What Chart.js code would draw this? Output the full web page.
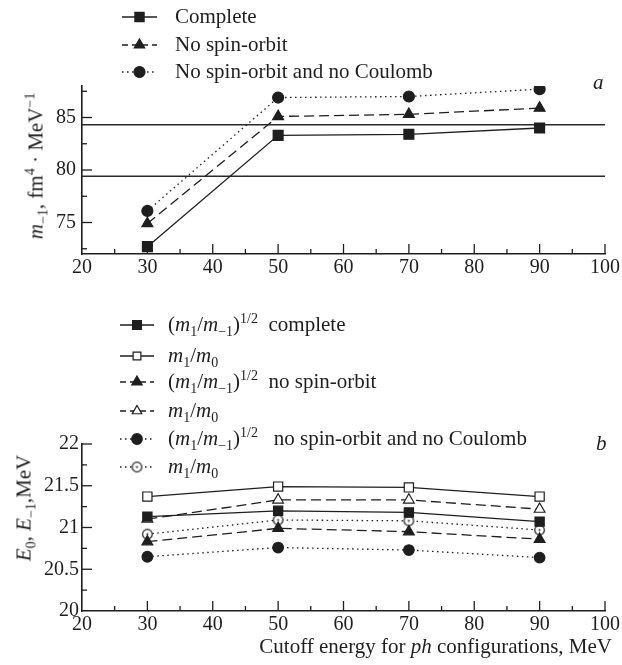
<!DOCTYPE html>
<html>
<head>
<meta charset="utf-8">
<script src="https://cdn.jsdelivr.net/npm/chart.js@4.4.0/dist/chart.umd.min.js"></script>
<style>
body { margin:0; background:#fff; width:622px; height:665px; position:relative; overflow:hidden;
       font-family:"Liberation Serif","DejaVu Serif",serif; color:#1e1e1e; }
.box { position:absolute; left:0; width:622px; }
#wa { top:0; height:300px; }
#wb { top:300px; height:365px; }
.t { position:absolute; font-size:21px; line-height:21px; white-space:nowrap; }
.t sub, .t sup { font-size:14px; line-height:0; }
.rot { transform:translate(-50%,-50%) rotate(-90deg); transform-origin:center; }
</style>
</head>
<body>
<div class="box" id="wa"><canvas id="ca" width="622" height="300"></canvas></div>
<div class="box" id="wb"><canvas id="cb" width="622" height="365"></canvas></div>

<!-- panel a texts -->
<div class="t" style="left:175px;top:6px">Complete</div>
<div class="t" style="left:175px;top:34px">No spin-orbit</div>
<div class="t" style="left:175px;top:61px">No spin-orbit and no Coulomb</div>
<div class="t" style="left:593px;top:72px"><i>a</i></div>
<div class="t rot" style="left:36px;top:166px"><i>m</i><sub>−1</sub>, fm<sup>4</sup> · MeV<sup>−1</sup></div>

<!-- panel b texts -->
<div class="t" style="left:168px;top:314px">(<i>m</i><sub>1</sub>/<i>m</i><sub>−1</sub>)<sup>1/2</sup>&nbsp; complete</div>
<div class="t" style="left:168px;top:345px"><i>m</i><sub>1</sub>/<i>m</i><sub>0</sub></div>
<div class="t" style="left:168px;top:371px">(<i>m</i><sub>1</sub>/<i>m</i><sub>−1</sub>)<sup>1/2</sup>&nbsp; no spin-orbit</div>
<div class="t" style="left:168px;top:400px"><i>m</i><sub>1</sub>/<i>m</i><sub>0</sub></div>
<div class="t" style="left:168px;top:428px">(<i>m</i><sub>1</sub>/<i>m</i><sub>−1</sub>)<sup>1/2</sup>&nbsp;&nbsp; no spin-orbit and no Coulomb</div>
<div class="t" style="left:168px;top:456px"><i>m</i><sub>1</sub>/<i>m</i><sub>0</sub></div>
<div class="t" style="left:596px;top:433px"><i>b</i></div>
<div class="t rot" style="left:24px;top:508px"><i>E</i><sub>0</sub>, <i>E</i><sub>−1</sub>,MeV</div>
<div class="t" style="right:10px;top:636px">Cutoff energy for <i>ph</i> configurations, MeV</div>

<script>
// cutoff energies, MeV
var cutoff = [30, 50, 70, 90];

// panel a: m_-1
var m1Complete = [72.7, 83.3, 83.4, 84.0];
var m1NoSO = [74.9, 85.1, 85.3, 85.9];
var m1NoSONoC = [76.1, 86.9, 87.0, 87.7];
var refLevels = [84.3, 79.4];

// panel b: (m1/m-1)^1/2 and m1/m0
var eComplete = [21.13, 21.20, 21.18, 21.07];
var e0Complete = [21.37, 21.49, 21.48, 21.37];
var eNoSO = [20.83, 20.99, 20.95, 20.86];
var e0NoSO = [21.10, 21.33, 21.33, 21.22];
var eNoSONoC = [20.65, 20.76, 20.73, 20.64];
var e0NoSONoC = [20.92, 21.09, 21.08, 20.97];

// ticks
var xRange = [20, 100];
var yRangeA = [72, 88];
var yTicksA = [72.5, 75, 77.5, 80, 82.5, 85, 87.5];
var yLabelsA = [75, 80, 85];
var yRangeB = [20, 22];

var ink = '#1e1e1e';
var serif = 'Liberation Serif';

// open circle with a dot in the middle
var dotCircle = document.createElement('canvas');
dotCircle.width = 13; dotCircle.height = 13;
(function () {
    var c = dotCircle.getContext('2d');
    c.beginPath(); c.arc(6.5, 6.5, 4.8, 0, Math.PI * 2);
    c.fillStyle = '#fff'; c.fill();
    c.lineWidth = 1.2; c.strokeStyle = ink; c.stroke();
    c.beginPath(); c.arc(6.5, 6.5, 1.0, 0, Math.PI * 2);
    c.fillStyle = ink; c.fill();
})();

var solid = [], dashed = [10, 5], dotted = [1.5, 3.5];

function series(vals, dash, style, r, fill) {
    return {
        data: cutoff.map(function (x, i) { return { x: x, y: vals[i] }; }),
        borderColor: ink, borderWidth: 1.3, borderDash: dash,
        pointStyle: style, pointRadius: r, pointHoverRadius: r,
        pointBackgroundColor: fill, pointBorderColor: ink, pointBorderWidth: 1.2,
        tension: 0, fill: false
    };
}

// inward tick marks, long on labelled ticks
var inwardTicks = {
    id: 'inwardTicks',
    afterDraw: function (chart) {
        var ctx = chart.ctx, a = chart.chartArea;
        ctx.save();
        ctx.strokeStyle = ink; ctx.lineWidth = 1.3;
        var xs = chart.scales.x, ys = chart.scales.y;
        xs.ticks.forEach(function (t) {
            var p = xs.getPixelForValue(t.value);
            var len = t.value % 10 === 0 ? 10 : 5;
            if (t.value === xRange[0]) return;
            ctx.beginPath(); ctx.moveTo(p, a.bottom); ctx.lineTo(p, a.bottom - len); ctx.stroke();
        });
        ys.ticks.forEach(function (t) {
            var p = ys.getPixelForValue(t.value);
            if (t.value === ys.min) return;
            var lab = ys.options.ticks.callback(t.value);
            var len = lab !== '' ? 10 : 5;
            ctx.beginPath(); ctx.moveTo(a.left, p); ctx.lineTo(a.left + len, p); ctx.stroke();
        });
        ctx.restore();
    }
};

// legend line samples with markers
var legendSamples = {
    id: 'legendSamples',
    afterDraw: function (chart) {
        var rows = chart.options.plugins.legendSamples.rows;
        var ctx = chart.ctx;
        rows.forEach(function (r) {
            ctx.save();
            ctx.strokeStyle = ink; ctx.lineWidth = 1.3;
            ctx.setLineDash(r.dash);
            ctx.beginPath(); ctx.moveTo(r.x0, r.y); ctx.lineTo(r.x1, r.y); ctx.stroke();
            ctx.setLineDash([]);
            ctx.fillStyle = r.fill; ctx.lineWidth = 1.2;
            Chart.helpers.drawPoint(ctx, { pointStyle: r.style, radius: r.r, borderWidth: 1.2, rotation: 0 }, (r.x0 + r.x1) / 2, r.y);
            ctx.restore();
        });
    }
};

function axisFont() { return { family: serif, size: 20 }; }

function scalesFor(ymin, ymax, ystep, ylab, yticks, ypad) {
    return {
        x: {
            type: 'linear', min: xRange[0], max: xRange[1],
            grid: { display: false, drawTicks: false },
            border: { display: true, color: ink, width: 1.6 },
            ticks: {
                stepSize: 5, autoSkip: false, maxRotation: 0, padding: 2,
                color: ink, font: axisFont(),
                callback: function (v) { return v % 10 === 0 ? String(v) : ''; }
            },
            afterFit: function (s) { s.height = 30; }
        },
        y: {
            type: 'linear', min: ymin, max: ymax,
            grid: { display: false, drawTicks: false },
            border: { display: true, color: ink, width: 1.6 },
            afterBuildTicks: yticks ? function (s) { s.ticks = yticks.map(function (v) { return { value: v }; }); } : undefined,
            ticks: {
                stepSize: ystep, autoSkip: false, padding: ypad,
                color: ink, font: axisFont(),
                callback: ylab
            },
            afterFit: function (s) { s.width = 60; }
        }
    };
}

var chartA = new Chart(document.getElementById('ca'), {
    type: 'line',
    data: {
        datasets: [
            series(m1Complete, solid, 'rect', 7, ink),
            series(m1NoSO, dashed, 'triangle', 6.3, ink),
            series(m1NoSONoC, dotted, 'circle', 5.5, ink)
        ].concat(refLevels.map(function (v) {
            return {
                data: [{ x: xRange[0], y: v }, { x: xRange[1], y: v }],
                borderColor: '#2a2a2a', borderWidth: 1.5, pointRadius: 0, fill: false
            };
        }))
    },
    options: {
        responsive: false, animation: false,
        layout: { padding: { left: 22, right: 14, top: 86, bottom: 16 } },
        plugins: {
            legend: { display: false }, tooltip: { enabled: false },
            legendSamples: {
                rows: [
                    { x0: 122, x1: 157, y: 17, dash: solid, style: 'rect', r: 6.5, fill: ink },
                    { x0: 122, x1: 157, y: 45, dash: [6, 4], style: 'triangle', r: 6, fill: ink },
                    { x0: 122, x1: 157, y: 72, dash: [1.5, 3.5], style: 'circle', r: 5.5, fill: ink }
                ]
            }
        },
        scales: scalesFor(yRangeA[0], yRangeA[1], 2.5,
            function (v) { return yLabelsA.indexOf(v) >= 0 ? String(v) : ''; }, yTicksA, 6)
    },
    plugins: [inwardTicks, legendSamples]
});

var chartB = new Chart(document.getElementById('cb'), {
    type: 'line',
    data: {
        datasets: [
            series(eComplete, solid, 'rect', 6.5, ink),
            series(e0Complete, solid, 'rect', 6.5, '#fff'),
            series(eNoSO, dashed, 'triangle', 6.2, ink),
            series(e0NoSO, dashed, 'triangle', 6.2, '#fff'),
            series(eNoSONoC, dotted, 'circle', 5.3, ink),
            series(e0NoSONoC, dotted, dotCircle, 5, '#fff')
        ]
    },
    options: {
        responsive: false, animation: false,
        layout: { padding: { left: 22, right: 14, top: 144, bottom: 24 } },
        plugins: {
            legend: { display: false }, tooltip: { enabled: false },
            legendSamples: {
                rows: [
                    { x0: 120, x1: 154, y: 25, dash: solid, style: 'rect', r: 6.2, fill: ink },
                    { x0: 120, x1: 154, y: 56, dash: solid, style: 'rect', r: 5.5, fill: '#fff' },
                    { x0: 120, x1: 154, y: 82, dash: [6, 4], style: 'triangle', r: 6, fill: ink },
                    { x0: 120, x1: 154, y: 111, dash: [6, 4], style: 'triangle', r: 5.5, fill: '#fff' },
                    { x0: 120, x1: 154, y: 139, dash: [1.5, 3.5], style: 'circle', r: 5.3, fill: ink },
                    { x0: 120, x1: 154, y: 167, dash: [1.5, 3.5], style: dotCircle, r: 5, fill: '#fff' }
                ]
            }
        },
        scales: scalesFor(yRangeB[0], yRangeB[1], 0.25,
            function (v) { return Math.round(v * 100) % 50 === 0 ? String(v) : ''; }, null, 3)
    },
    plugins: [inwardTicks, legendSamples]
});
</script>
</body>
</html>
